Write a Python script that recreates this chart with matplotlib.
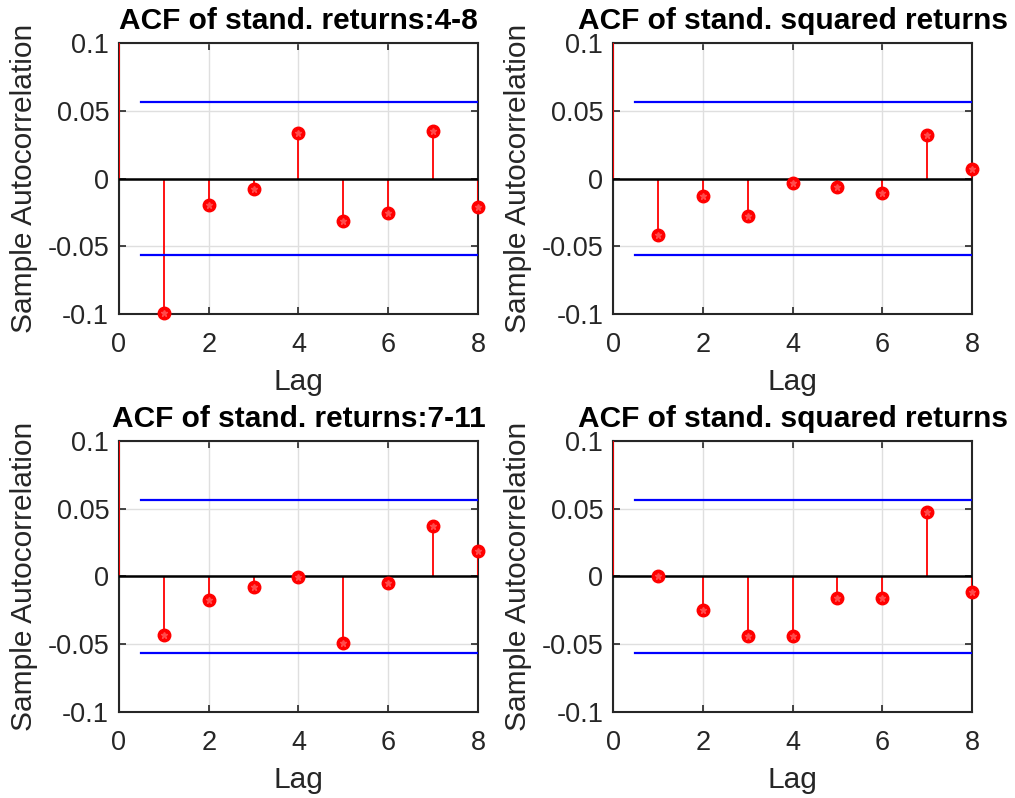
#!/usr/bin/env python

import numpy as np
from matplotlib import pyplot as plt
from matplotlib.ticker import FixedLocator, FixedFormatter

# sample autocorrelations, lag 0..8 (lag 0 = 1, runs off the top)
lags = np.arange(0, 9)
acf_ret_4_8 = [1.0, -0.0995, -0.0198, -0.0080, 0.0334, -0.0316, -0.0255, 0.0350, -0.0210]
acf_sq_4_8 = [1.0, -0.0420, -0.0127, -0.0274, -0.0036, -0.0065, -0.0110, 0.0319, 0.0068]
acf_ret_7_11 = [1.0, -0.0433, -0.0171, -0.0081, -0.0007, -0.0494, -0.0051, 0.0375, 0.0186]
acf_sq_7_11 = [1.0, 0.0005, -0.0247, -0.0438, -0.0438, -0.0159, -0.0159, 0.0475, -0.0115]
bound = 0.0566

titles = ['ACF of stand. returns:4-8', 'ACF of stand. squared returns',
          'ACF of stand. returns:7-11', 'ACF of stand. squared returns']
series = [acf_ret_4_8, acf_sq_4_8, acf_ret_7_11, acf_sq_7_11]

plt.rcParams['font.family'] = ['Liberation Sans', 'DejaVu Sans']

fig = plt.figure(figsize=(10.15, 7.98), dpi=100)

# [left, bottom, width, height]
positions = [[0.1172, 0.6065, 0.3537, 0.3396],
             [0.6040, 0.6065, 0.3537, 0.3396],
             [0.1172, 0.1078, 0.3537, 0.3396],
             [0.6040, 0.1078, 0.3537, 0.3396]]

axcol = '#262626'

for pos, title, vals in zip(positions, titles, series):
    ax = fig.add_axes(pos)
    vals = np.array(vals)
    ax.grid(True, color='#dfdfdf', linewidth=1.0)
    ax.set_axisbelow(True)
    # stems
    ax.vlines(lags, 0, vals, color='red', linewidth=1.3, zorder=3)
    ax.plot([0, 8], [0, 0], color='black', linewidth=1.8, zorder=4)
    # markers (not clipped at the edge, like matlab), skip lag 0
    ax.plot(lags[1:], vals[1:], 'o', color='red', markersize=9, clip_on=False, zorder=5)
    ax.plot(lags[1:], vals[1:], '*', color='#ff4a4a', markersize=5, clip_on=False, zorder=6)
    # confidence bounds
    ax.plot([0.5, 8], [bound, bound], color='blue', linewidth=1.6, zorder=3)
    ax.plot([0.5, 8], [-bound, -bound], color='blue', linewidth=1.6, zorder=3)

    ax.set_xlim(0, 8)
    ax.set_ylim(-0.1, 0.1)
    ax.xaxis.set_major_locator(FixedLocator([0, 2, 4, 6, 8]))
    ax.xaxis.set_major_formatter(FixedFormatter(['0', '2', '4', '6', '8']))
    ax.yaxis.set_major_locator(FixedLocator([-0.1, -0.05, 0, 0.05, 0.1]))
    ax.yaxis.set_major_formatter(FixedFormatter(['-0.1', '-0.05', '0', '0.05', '0.1']))
    ax.tick_params(direction='in', length=5, width=1.2, colors=axcol,
                   labelsize=19.5, top=True, right=True)
    ax.tick_params(axis='x', pad=13)
    ax.tick_params(axis='y', pad=7)
    for sp in ax.spines.values():
        sp.set_color(axcol)
        sp.set_linewidth(1.5)

    ax.set_title(title, fontsize=21.5, fontweight='bold', pad=10)
    ax.set_xlabel('Lag', fontsize=21.5, color=axcol, labelpad=7)
    ax.set_ylabel('Sample Autocorrelation', fontsize=21.5, color=axcol, labelpad=7)

plt.savefig('out.png', dpi=100)
